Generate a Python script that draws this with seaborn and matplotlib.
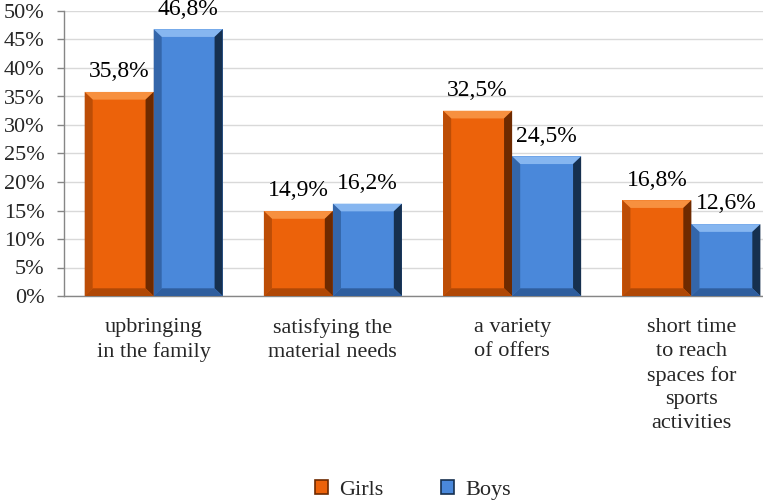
import matplotlib
matplotlib.use("Agg")
import matplotlib.pyplot as plt
import seaborn as sns
import pandas as pd
import numpy as np
from matplotlib.patches import Polygon, Patch

categories = ["upbringing\nin the family", "satisfying the\nmaterial needs",
              "a variety\nof offers", "short time\nto reach\nspaces for\nsports\nactivities"]
series_names = ["Girls", "Boys"]
girls = [35.8, 14.9, 32.5, 16.8]
boys = [46.8, 16.2, 24.5, 12.6]
yticks = [0, 5, 10, 15, 20, 25, 30, 35, 40, 45, 50]

colors = {"Girls": "#EC620A", "Boys": "#4A88DA"}
light = {"Girls": "#F7903F", "Boys": "#86B6F0"}
dark = {"Girls": "#6E2A00", "Boys": "#16304F"}
mid = {"Girls": "#B04806", "Boys": "#2F5E9E"}

df = pd.DataFrame({
    "cat": categories * 2,
    "series": [series_names[0]] * 4 + [series_names[1]] * 4,
    "val": girls + boys,
})

sns.set_theme(style="white")
plt.rcParams["font.family"] = ["Liberation Serif", "DejaVu Serif"]

fig = plt.figure(figsize=(7.63, 5.01), dpi=100)
W, H = 763, 501
ax = fig.add_axes([64 / W, (H - 296) / H, (781 - 64) / W, (296 - 11) / H])

sns.barplot(data=df, x="cat", y="val", hue="series", palette=colors,
            width=0.77, ax=ax, legend=False, saturation=1,
            edgecolor="none", linewidth=0)

ax.set_xlim(-0.5, 3.5)
ax.set_ylim(0, 50)

# bevel effect derived from each bar's geometry
bx = 0.045
by = 1.35
for i, p in enumerate(ax.patches[:8]):
    s = series_names[i // 4]
    x0, w, h = p.get_x(), p.get_width(), p.get_height()
    x1 = x0 + w
    b = min(by, h / 3)
    top = Polygon([(x0, h), (x1, h), (x1 - bx, h - b), (x0 + bx, h - b)],
                  closed=True, fc=light[s], ec="none", zorder=3)
    right = Polygon([(x1, h), (x1, 0), (x1 - bx, b), (x1 - bx, h - b)],
                    closed=True, fc=dark[s], ec="none", zorder=3)
    bottom = Polygon([(x0, 0), (x1, 0), (x1 - bx, b), (x0 + bx, b)],
                     closed=True, fc=mid[s], ec="none", zorder=3)
    left = Polygon([(x0, 0), (x0, h), (x0 + bx, h - b), (x0 + bx, b)],
                   closed=True, fc=mid[s], ec="none", zorder=3, alpha=0.8)
    for poly in (top, right, bottom, left):
        ax.add_patch(poly)
    p.set_zorder(2)
    ax.annotate(f"{h:.1f}".replace(".", ",") + "%", (x0 + w / 2, h),
                xytext=(0, 7), textcoords="offset points", ha="center",
                va="bottom", fontsize=17, annotation_clip=False, color="black")

ax.set_yticks(yticks)
ax.set_yticklabels([f"{t}%" for t in yticks], fontsize=16)
ax.yaxis.grid(True, color="#D9D9D9", linewidth=1)
ax.set_axisbelow(True)

ax.set_xticks(range(4))
ax.set_xticklabels(categories, fontsize=16, linespacing=1.33)
ax.set_xticks([-0.5, 0.5, 1.5, 2.5, 3.5], minor=True)
ax.tick_params(axis="x", which="major", length=0, pad=16)
ax.tick_params(axis="x", which="minor", length=6, width=1, color="#868686", direction="out")
ax.tick_params(axis="y", length=5, width=1, color="#868686", direction="out", pad=9, left=True)
ax.set_xlabel("")
ax.set_ylabel("")

for sp in ["top", "right"]:
    ax.spines[sp].set_visible(False)
for sp in ["left", "bottom"]:
    ax.spines[sp].set_color("#868686")
    ax.spines[sp].set_linewidth(1)

handles = [Patch(facecolor=colors[s], edgecolor=dark[s], linewidth=1.2) for s in series_names]
fig.legend(handles, series_names, loc="lower center", bbox_to_anchor=(0.541, -0.038),
           ncol=2, frameon=False, fontsize=16, handlelength=0.6, handleheight=0.6,
           handletextpad=0.5, columnspacing=2.6)

fig.savefig("out.png", dpi=100)
